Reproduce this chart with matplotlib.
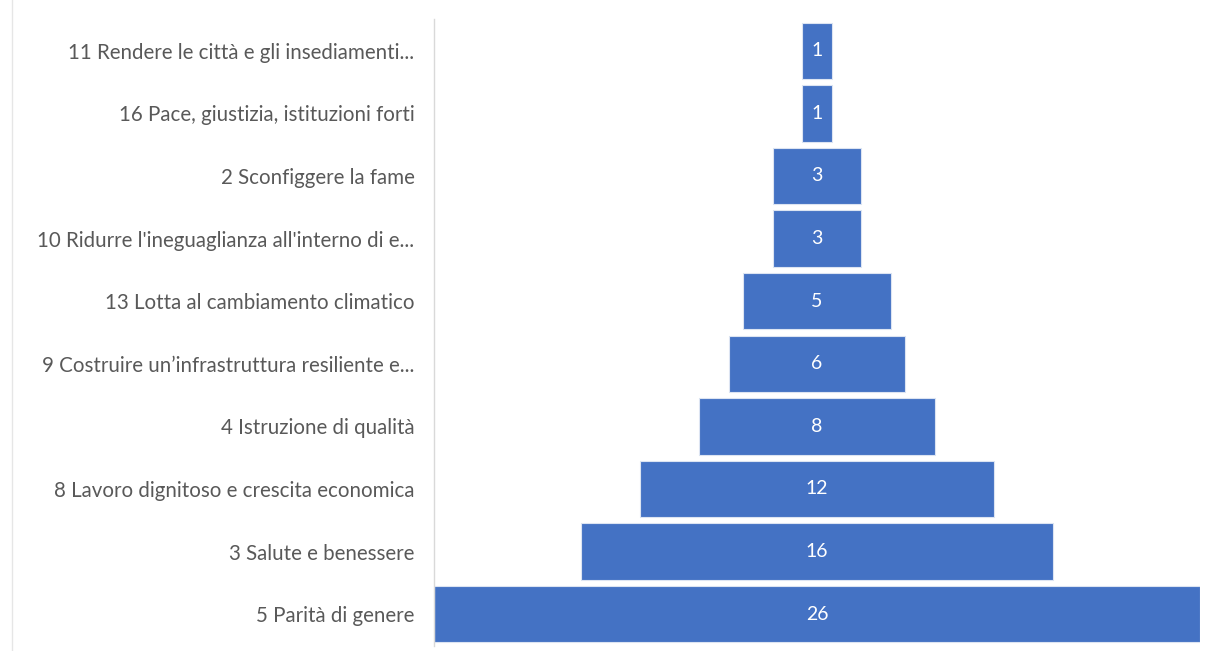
import matplotlib.pyplot as plt

labels = [
    "11 Rendere le città e gli insediamenti...",
    "16 Pace, giustizia, istituzioni forti",
    "2 Sconfiggere la fame",
    "10 Ridurre l'ineguaglianza all'interno di e...",
    "13 Lotta al cambiamento climatico",
    "9 Costruire un’infrastruttura resiliente e...",
    "4 Istruzione di qualità",
    "8 Lavoro dignitoso e crescita economica",
    "3 Salute e benessere",
    "5 Parità di genere",
]
values = [1, 1, 3, 3, 5, 6, 8, 12, 16, 26]

plt.rcParams['font.family'] = ['Lato', 'DejaVu Sans']

fig = plt.figure(figsize=(12.07, 6.51), dpi=100)
ax = fig.add_axes([434 / 1207, 1 - 645.5 / 651, (1200 - 434) / 1207, (645.5 - 19.5) / 651])

ypos = list(range(len(values)))
lefts = [-v / 2 for v in values]
bars = ax.barh(ypos, values, left=lefts, height=0.9, color="#4472C4",
               edgecolor="#DCE4F2", linewidth=0.8)
for y, v in zip(ypos, values):
    ax.text(0, y, str(v), ha="center", va="center", color="white", fontsize=14)

ax.set_xlim(-13, 13)
ax.set_ylim(len(values) - 0.5, -0.5)
ax.set_yticks(ypos)
ax.set_yticklabels(labels, fontsize=14.8, color="#595959")
ax.tick_params(axis="y", length=0, pad=14)
ax.set_xticks([])
for side in ["top", "right", "bottom"]:
    ax.spines[side].set_visible(False)
ax.spines["left"].set_color("#D9D9D9")
ax.spines["left"].set_linewidth(1)

# faint chart border on the left
fig.add_artist(plt.Line2D([12 / 1207, 12 / 1207], [0, 1], color="#E6E6E6", linewidth=1))

fig.savefig("out.png", dpi=100)
